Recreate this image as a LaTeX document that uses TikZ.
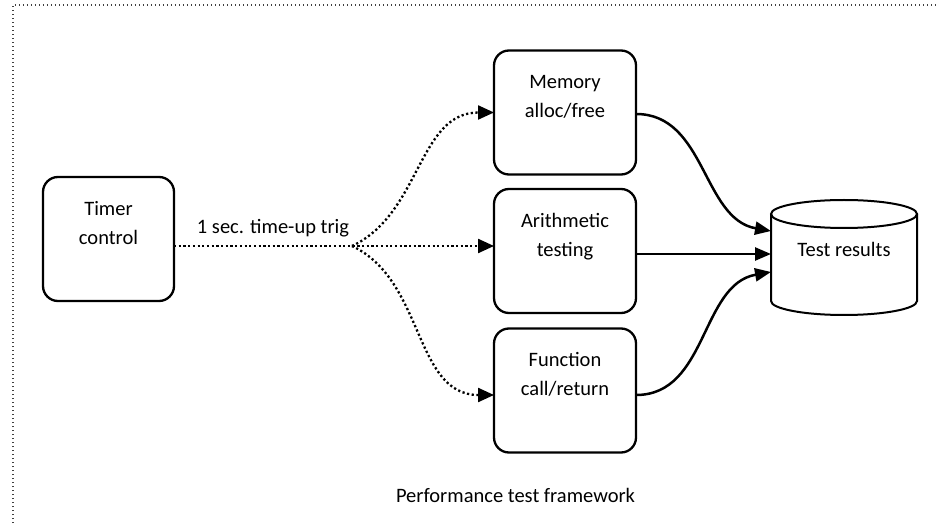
\documentclass[tikz,border=0pt]{standalone}
\usepackage{fontspec}
\setmainfont{Carlito}
\usetikzlibrary{arrows.meta,calc}
\tikzset{
  trig line/.style={line width=2.3pt, dash pattern=on 2.2pt off 2.5pt,
    -{Triangle[length=16pt,width=14pt]}}
  }

\begin{document}
\begin{tikzpicture}[x=1pt, y=1pt,
    every node/.style={font=\fontsize{20.5}{29}\selectfont},
    testbox/.style={%
        draw, line width=2.3pt, rounded corners=15pt,
        inner sep=0pt, outer sep=0pt,
        minimum width=142pt, minimum height=124pt},
    boxtext/.style={%
        anchor=north, align=center, inner sep=0pt, yshift=-17.7pt},
    result/.style={%
        line width=2.5pt, -{Triangle[length=16pt,width=13pt]}},
]
    \useasboundingbox (0,0) rectangle (936,525);
    \clip (0,0) rectangle (936,525);
    % Frame
    \draw[line width=1.3pt, black!75, dash pattern=on 1.3pt off 2.7pt] (13,-10) |- (950,520);
    % Timer and tests
    \node[testbox, minimum width=131pt, label={[boxtext]90:\strut Timer\\control}] (timer) at (108.5,286) {};
    \node[testbox, label={[boxtext]90:\strut Memory\\alloc/free}] (mem) at (565,412.5) {};
    \node[testbox, label={[boxtext]90:\strut Arithmetic\\testing}] (arith) at (565,274) {};
    \node[testbox, label={[boxtext]90:\strut Function\\call/return}] (func) at (565,134.5) {};
    % Results store
    \node[minimum width=146pt, inner sep=0pt, outer sep=0pt] (res) at (844,275.5) {Test results};
    \draw[line width=2pt] ($(res.west)+(0,35.5)$) -- ($(res.west)+(0,-51.5)$)
        arc[start angle=180, end angle=360, x radius=73, y radius=14] -- ($(res.east)+(0,35.5)$);
    \draw[line width=2pt] ($(res.center)+(0,35.5)$) ellipse[x radius=73, y radius=14];
    \coordinate (rtop) at ($(res.west)+(0,18.5)$);
    \coordinate (rmid) at ($(res.west)+(0,-4.5)$);
    \coordinate (rbot) at ($(res.west)+(0,-22.5)$);
    % Trigger
    \coordinate (fork) at (352,279);
    \node[anchor=base, inner sep=0pt] (trig) at (273,291) {1 sec. time-up trig};
    \draw[trig line] (timer.east |- fork) -- (arith.west |- fork);
    \draw[trig line] (fork) to[out=25, in=180] (mem.west);
    \draw[trig line] (fork) to[out=-25, in=180] ([yshift=-4.5pt]func.west);
    % Results
    \draw[result] ([yshift=-1.5pt]mem.east) to[out=0, in=170] (rtop);
    \draw[result] (arith.east |- rmid) -- (rmid);
    \draw[result] ([yshift=-4.5pt]func.east) to[out=0, in=190] (rbot);
    % Caption
    \node[anchor=base, inner sep=0pt] (caption) at (515.5,23) {Performance test framework};
\end{tikzpicture}
\end{document}
